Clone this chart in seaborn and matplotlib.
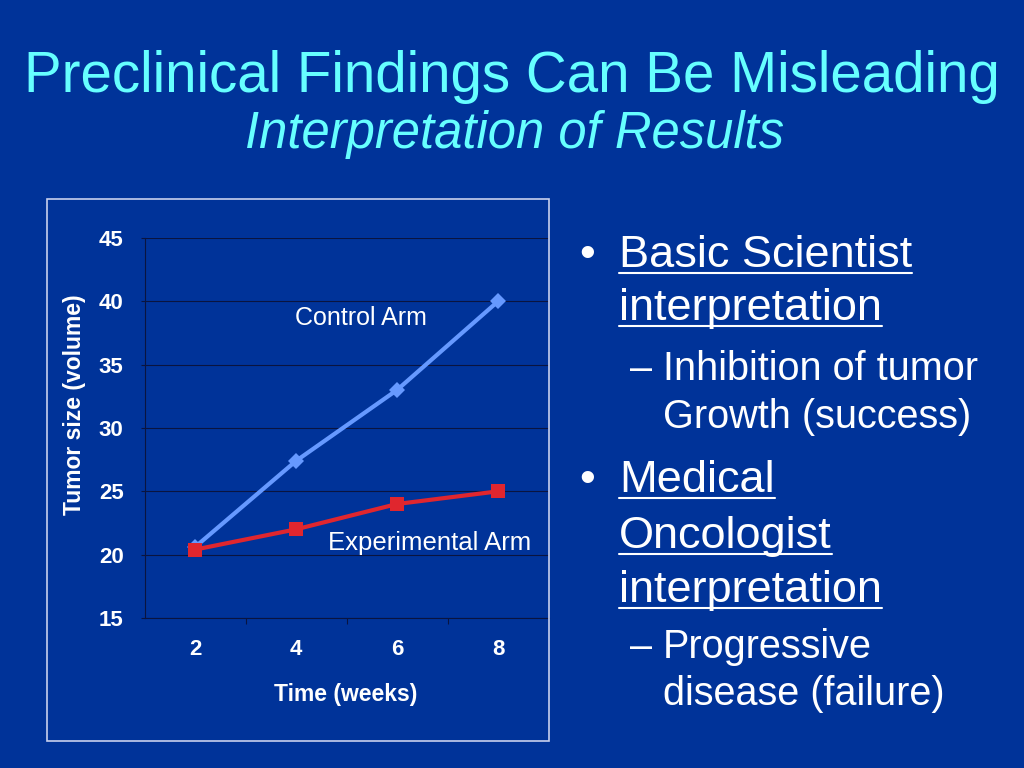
import matplotlib
matplotlib.use('Agg')
import matplotlib.pyplot as plt
import seaborn as sns
from matplotlib.patches import Rectangle
from matplotlib.lines import Line2D

# data
weeks = [2, 4, 6, 8]
control_arm = [20.6, 27.4, 33.0, 40.0]
experimental_arm = [20.4, 22.0, 24.0, 25.0]
y_ticks = [15, 20, 25, 30, 35, 40, 45]

title = 'Preclinical Findings Can Be Misleading'
subtitle = 'Interpretation of Results'
# (level, text, baseline in px, underlined)
bullet_lines = [
    (0, 'Basic Scientist', 267, True),
    (0, 'interpretation', 320, True),
    (1, 'Inhibition of tumor', 380, False),
    (1, 'Growth (success)', 428, False),
    (0, 'Medical', 492, True),
    (0, 'Oncologist', 548, True),
    (0, 'interpretation', 602, True),
    (1, 'Progressive', 658, False),
    (1, 'disease (failure)', 705, False),
]
bullet_starts = {'Basic Scientist': '\u2022', 'Medical': '\u2022',
                 'Inhibition of tumor': '\u2013', 'Progressive': '\u2013'}

bg = '#003399'
cyan = '#66FFFF'
blue = '#6699FF'
red = '#E0262E'
dark = '#0a1440'

sns.set_theme(style='white')
plt.rcParams['font.family'] = ['Liberation Sans', 'DejaVu Sans']

W, H = 1024, 768
fig = plt.figure(figsize=(W / 100, H / 100), dpi=100, facecolor=bg)


def fx(px):
    return px / W


def fy(py):
    return 1 - py / H


# chart panel border
fig.patches.append(Rectangle((fx(47), fy(741)), fx(549) - fx(47), fy(199) - fy(741),
                             transform=fig.transFigure, fill=False,
                             edgecolor='#c8d0ee', linewidth=1.2))

ax = fig.add_axes([fx(144.5), fy(618), (548.5 - 144.5) / W, (618 - 238) / H])
ax.set_facecolor(bg)

sns.lineplot(x=weeks, y=control_arm, ax=ax, color=blue, linewidth=3,
             marker='D', markersize=8, markeredgewidth=0, zorder=3)
sns.lineplot(x=weeks, y=experimental_arm, ax=ax, color=red, linewidth=3,
             marker='s', markersize=10, markeredgewidth=0, zorder=4)

ax.set_xlim(1, 9)
ax.set_ylim(15, 45)
ax.set_xticks(weeks)
ax.set_xticks([3, 5, 7], minor=True)
ax.set_yticks(y_ticks)
ax.tick_params(axis='x', which='major', bottom=True, length=0, pad=15,
               labelsize=16, labelcolor='white')
ax.tick_params(axis='x', which='minor', bottom=True, length=4, width=0.8,
               color=dark, direction='out')
ax.tick_params(axis='y', left=True, length=3, width=0.8, color=dark, pad=12,
               labelsize=16, labelcolor='white')
for lbl in ax.get_xticklabels() + ax.get_yticklabels():
    lbl.set_fontweight('bold')
ax.grid(axis='y', color=dark, linewidth=0.8)
ax.grid(axis='x', visible=False)
for side in ['top', 'right']:
    ax.spines[side].set_visible(False)
for side in ['left', 'bottom']:
    ax.spines[side].set_color(dark)
    ax.spines[side].set_linewidth(0.8)

ax.text(0.499, (618 - 695) / 380, 'Time (weeks)', transform=ax.transAxes,
        ha='center', va='center', fontsize=16.5, fontweight='bold', color='white')
ax.text((74 - 144.5) / 404, (618 - 405) / 380, 'Tumor size (volume)',
        transform=ax.transAxes, rotation=90, ha='center', va='center',
        fontsize=16.5, fontweight='bold', color='white')

ax.text(5.29, 38.7, 'Control Arm', ha='center', va='center', fontsize=18, color='white')
ax.text(6.65, 20.92, 'Experimental Arm', ha='center', va='center', fontsize=18.5, color='white')

# titles
fig.text(fx(512), fy(92), title, ha='center', va='baseline', fontsize=40.7, color=cyan)
fig.text(fx(515), fy(148), subtitle, ha='center', va='baseline', fontsize=36.5,
         style='italic', color=cyan)

# bullet text on the right
texts = []
for level, txt, base, under in bullet_lines:
    if level == 0:
        x_txt, size, x_mark = 619, 32.5, 587
    else:
        x_txt, size, x_mark = 663, 28.5, 641
    t = fig.text(fx(x_txt), fy(base), txt, ha='left', va='baseline',
                 fontsize=size, color='white')
    if txt in bullet_starts:
        fig.text(fx(x_mark), fy(base), bullet_starts[txt], ha='center',
                 va='baseline', fontsize=size, color='white')
    if under:
        texts.append((t, base))

fig.canvas.draw()
renderer = fig.canvas.get_renderer()
for t, base in texts:
    bb = t.get_window_extent(renderer)
    fig.lines.append(Line2D([bb.x0 / W, bb.x1 / W], [fy(base + 6), fy(base + 6)],
                            transform=fig.transFigure, color='white', linewidth=1.5))

fig.savefig('out.png', dpi=100, facecolor=bg)
